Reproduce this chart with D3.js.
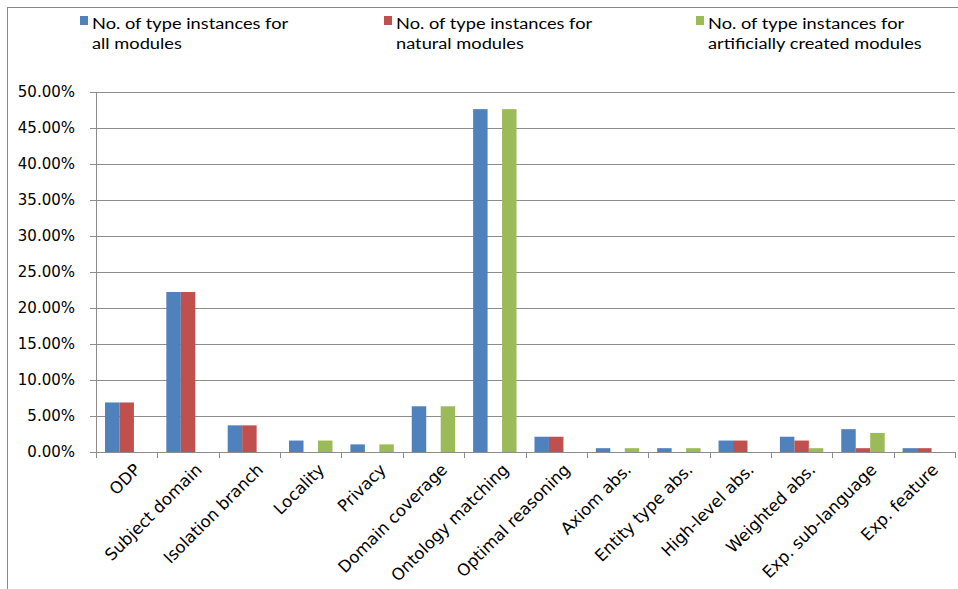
<!DOCTYPE html>
<html>
<head>
<meta charset="utf-8">
<script src="https://cdn.jsdelivr.net/npm/d3@7"></script>
<style>
  body { margin: 0; background: #fff; }
  text { font-family: "DejaVu Sans", sans-serif; fill: #000; }
</style>
</head>
<body>
<svg id="chart" width="958" height="589"></svg>
<script>
const categories = ['ODP', 'Subject domain', 'Isolation branch', 'Locality', 'Privacy', 'Domain coverage',
  'Ontology matching', 'Optimal reasoning', 'Axiom abs.', 'Entity type abs.', 'High-level abs.',
  'Weighted abs.', 'Exp. sub-language', 'Exp. feature'];
const seriesNames = [
  ['No. of type instances for', 'all modules'],
  ['No. of type instances for', 'natural modules'],
  ['No. of type instances for', 'artificially created modules']
];
const allModules = [6.88, 22.22, 3.70, 1.59, 1.06, 6.35, 47.62, 2.12, 0.53, 0.53, 1.59, 2.12, 3.17, 0.53];
const naturalModules = [6.88, 22.22, 3.70, 0, 0, 0, 0, 2.12, 0, 0, 1.59, 1.59, 0.53, 0.53];
const artificialModules = [0, 0, 0, 1.59, 1.06, 6.35, 47.62, 0, 0.53, 0.53, 0, 0.53, 2.65, 0];
const yTicks = [0, 5, 10, 15, 20, 25, 30, 35, 40, 45, 50];
const colors = ['#4F81BD', '#C0504D', '#9BBB59'];

const series = [allModules, naturalModules, artificialModules];
const svg = d3.select('#chart');

// frame
svg.append('rect')
  .attr('x', 7.5).attr('y', 7.5)
  .attr('width', 1000).attr('height', 1000)
  .attr('fill', 'none').attr('stroke', '#888');

const plotLeft = 96, plotRight = 955, plotTop = 92, plotBottom = 452;

const x = d3.scaleBand().domain(categories).range([plotLeft, plotRight]);
const xs = d3.scaleBand().domain([0, 1, 2]).range([0, x.bandwidth()])
  .paddingInner(0).paddingOuter(0.62);
const y = d3.scaleLinear().domain([0, 50]).range([plotBottom, plotTop]);

// gridlines
svg.append('g')
  .attr('transform', `translate(${plotLeft},0)`)
  .call(d3.axisLeft(y).tickValues(yTicks).tickSize(-(plotRight - plotLeft)).tickFormat(''))
  .call(g => g.select('.domain').remove())
  .call(g => g.selectAll('line').attr('stroke', '#8c8c8c'));

// y axis
svg.append('g')
  .attr('transform', `translate(${plotLeft},0)`)
  .call(d3.axisLeft(y).tickValues(yTicks).tickSize(6).tickPadding(15)
    .tickFormat(d => d3.format('.2f')(d) + '%'))
  .call(g => g.select('.domain').attr('stroke', '#8c8c8c'))
  .call(g => g.selectAll('line').attr('stroke', '#8c8c8c'))
  .call(g => g.selectAll('text').style('font-size', '15px').style('font-family', '"DejaVu Sans", sans-serif'));

// bars
series.forEach((vals, si) => {
  svg.append('g').selectAll('rect')
    .data(vals)
    .join('rect')
    .attr('x', (d, i) => x(categories[i]) + xs(si))
    .attr('y', d => y(d))
    .attr('width', xs.bandwidth())
    .attr('height', d => plotBottom - y(d))
    .attr('fill', colors[si]);
});

// x axis baseline + ticks at boundaries
svg.append('line')
  .attr('x1', plotLeft).attr('x2', plotRight).attr('y1', plotBottom + 0.5).attr('y2', plotBottom + 0.5)
  .attr('stroke', '#8c8c8c');
svg.append('g').selectAll('line')
  .data(categories.concat(['end']))
  .join('line')
  .attr('x1', (d, i) => Math.round(i < categories.length ? x(d) : plotRight) + 0.5)
  .attr('x2', (d, i) => Math.round(i < categories.length ? x(d) : plotRight) + 0.5)
  .attr('y1', plotBottom).attr('y2', plotBottom + 6)
  .attr('stroke', '#8c8c8c');

// x labels
svg.append('g').selectAll('text')
  .data(categories)
  .join('text')
  .attr('transform', d => `translate(${x(d) + x.bandwidth() / 2 + 6},${plotBottom + 10}) rotate(-45)`)
  .attr('text-anchor', 'end')
  .attr('dy', '0.75em')
  .style('font-size', '16.5px')
  .text(d => d);

// legend
const legendX = [80, 384, 696];
seriesNames.forEach((lines, i) => {
  const g = svg.append('g').attr('transform', `translate(${legendX[i]},0)`);
  g.append('rect').attr('x', 0).attr('y', 16).attr('width', 8).attr('height', 9).attr('fill', colors[i]);
  lines.forEach((t, j) => {
    g.append('text')
      .attr('transform', `translate(12,${29 + j * 20}) scale(1.14,1)`)
      .style('font-family', 'Lato, sans-serif').style('font-size', '16px')
      .text(t);
  });
});
</script>
</body>
</html>
